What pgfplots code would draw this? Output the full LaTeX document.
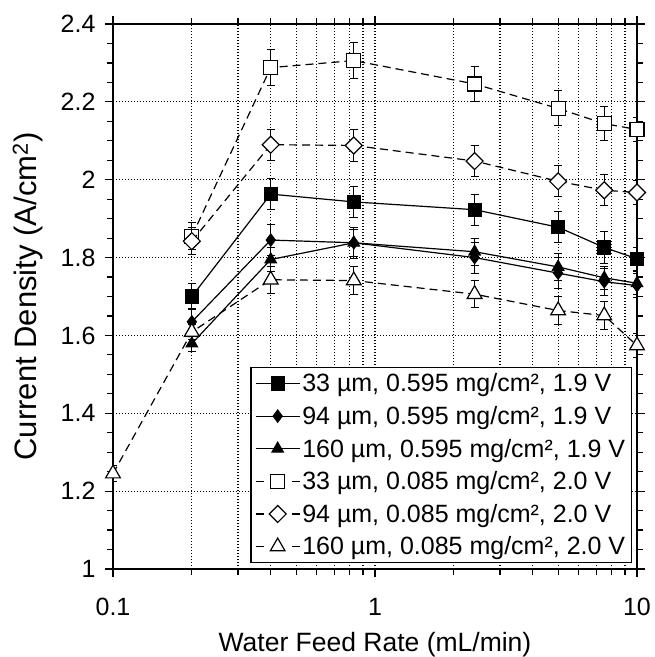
\documentclass[border=0pt]{standalone}
\usepackage{fontspec}
\setmainfont{Liberation Sans}
\usepackage{pgfplots}
\pgfplotsset{compat=1.18}
\newcommand{\fs}{\fontsize{25}{30}\selectfont}
\pgfplotsset{openleg/.style={legend image code/.code={\draw[##1,solid] (0pt,0pt) -- (8pt,0pt); \draw[##1,solid] (36pt,0pt) -- (44pt,0pt); \draw[##1] plot coordinates {(22pt,0pt)};}}}
\begin{document}
\begin{tikzpicture}
\useasboundingbox (-113pt,-88pt) rectangle (542pt,569pt);
\begin{axis}[
  scale only axis, width=524pt, height=545pt,
  at={(0,0)}, anchor=south west,
  xmode=log, xmin=0.1, xmax=10, ymin=1, ymax=2.4,
  xtick={0.1,1,10}, xticklabels={0.1,1,10},
  minor xtick={0.2,0.3,0.4,0.5,0.6,0.7,0.8,0.9,2,3,4,5,6,7,8,9},
  ytick={1,1.2,1.4,1.6,1.8,2,2.2,2.4},
  yticklabels={1,1.2,1.4,1.6,1.8,2,2.2,2.4},
  minor y tick num=3,
  tick align=outside,
  major tick length=8pt, minor tick length=6pt,
  tick style={black, line width=1.2pt},
  axis line style={line width=1.4pt},
  grid=both, yminorgrids=false,
  major grid style={black, line width=1.1pt, dash pattern=on 1.2pt off 1.8pt},
  minor grid style={black, line width=1.1pt, dash pattern=on 1.2pt off 1.8pt},
  /pgf/number format/assume math mode=true,
  tick label style={font=\fs},
  xticklabel style={yshift=-18pt},
  yticklabel style={xshift=-6pt},
  xlabel={Water Feed Rate (mL/min)},
  ylabel={Current Density (A/cm\textsuperscript{2})},
  every axis x label/.style={at={(axis description cs:0.5,-0.139)}, anchor=center, font=\fontsize{26.5}{30}\selectfont},
  every axis y label/.style={at={(axis description cs:-0.162,0.5)}, anchor=center, rotate=90, font=\fontsize{31}{36}\selectfont},
  clip mode=individual,
  legend style={font=\fs, at={(0.99,0.011)}, anchor=south east, draw=black, line width=1.2pt, fill=white, row sep=9pt, inner sep=4pt, legend cell align=left},
  legend image code/.code={\draw[mark repeat=2,mark phase=2,#1] plot coordinates {(0pt,0pt) (22pt,0pt) (44pt,0pt)};},
  error bars/y dir=both, error bars/y explicit,
  error bars/error bar style={solid, black, line width=1pt},
  error bars/error mark options={rotate=90, mark size=4pt, solid, black, line width=1pt},
]
% filled square
\addplot[black, line width=1.2pt, mark=square*, mark size=6.5pt, mark options={solid}]
 coordinates {(0.2,1.700) +- (0,0.033) (0.4,1.963) +- (0,0.04) (0.83,1.943) +- (0,0.04) (2.4,1.923) +- (0,0.04) (5,1.878) +- (0,0.04) (7.5,1.826) +- (0,0.04) (10,1.797) +- (0,0.03)};
\addlegendentry{33 µm, 0.595 mg/cm², 1.9 V}
% filled diamond
\addplot[black, line width=1.2pt, mark=diamond*, mark size=6pt, mark options={solid}]
 coordinates {(0.2,1.635) +- (0,0.035) (0.4,1.845) +- (0,0.04) (0.83,1.838) +- (0,0.04) (2.4,1.800) +- (0,0.04) (5,1.760) +- (0,0.04) (7.5,1.738) +- (0,0.035) (10,1.728) +- (0,0.03)};
\addlegendentry{94 µm, 0.595 mg/cm², 1.9 V}
% filled triangle
\addplot[black, line width=1.2pt, mark=triangle*, mark size=6.5pt, mark options={solid}]
 coordinates {(0.2,1.579) +- (0,0.02) (0.4,1.795) +- (0,0.03) (0.83,1.838) +- (0,0.035) (2.4,1.815) +- (0,0.035) (5,1.776) +- (0,0.035) (7.5,1.748) +- (0,0.03) (10,1.734) +- (0,0.03)};
\addlegendentry{160 µm, 0.595 mg/cm², 1.9 V}
% open square
\addplot[black, line width=1.2pt, dash pattern=on 8pt off 5pt, mark=square*, mark size=7pt, mark options={solid, fill=white}, openleg]
 coordinates {(0.2,1.855) +- (0,0.035) (0.4,2.288) +- (0,0.046) (0.83,2.306) +- (0,0.047) (2.4,2.246) +- (0,0.046) (5,2.183) +- (0,0.045) (7.5,2.144) +- (0,0.043) (10,2.129) +- (0,0.03)};
\addlegendentry{33 µm, 0.085 mg/cm², 2.0 V}
% open diamond
\addplot[black, line width=1.2pt, dash pattern=on 8pt off 5pt, mark=square*, mark size=6pt, mark options={solid, fill=white, rotate=45}, openleg]
 coordinates {(0.2,1.842) +- (0,0.035) (0.4,2.090) +- (0,0.04) (0.83,2.088) +- (0,0.04) (2.4,2.048) +- (0,0.04) (5,1.996) +- (0,0.04) (7.5,1.973) +- (0,0.04) (10,1.967) +- (0,0.03)};
\addlegendentry{94 µm, 0.085 mg/cm², 2.0 V}
% open triangle
\addplot[black, line width=1.2pt, dash pattern=on 8pt off 5pt, mark=triangle*, mark size=8.5pt, mark options={solid, fill=white}, openleg]
 coordinates {(0.1,1.245) +- (0,0.02) (0.2,1.609) +- (0,0.02) (0.4,1.743) +- (0,0.035) (0.83,1.741) +- (0,0.035) (2.4,1.706) +- (0,0.035) (5,1.664) +- (0,0.035) (7.5,1.651) +- (0,0.035) (10,1.574) +- (0,0.03)};
\addlegendentry{160 µm, 0.085 mg/cm², 2.0 V}
\end{axis}
\end{tikzpicture}
\end{document}
